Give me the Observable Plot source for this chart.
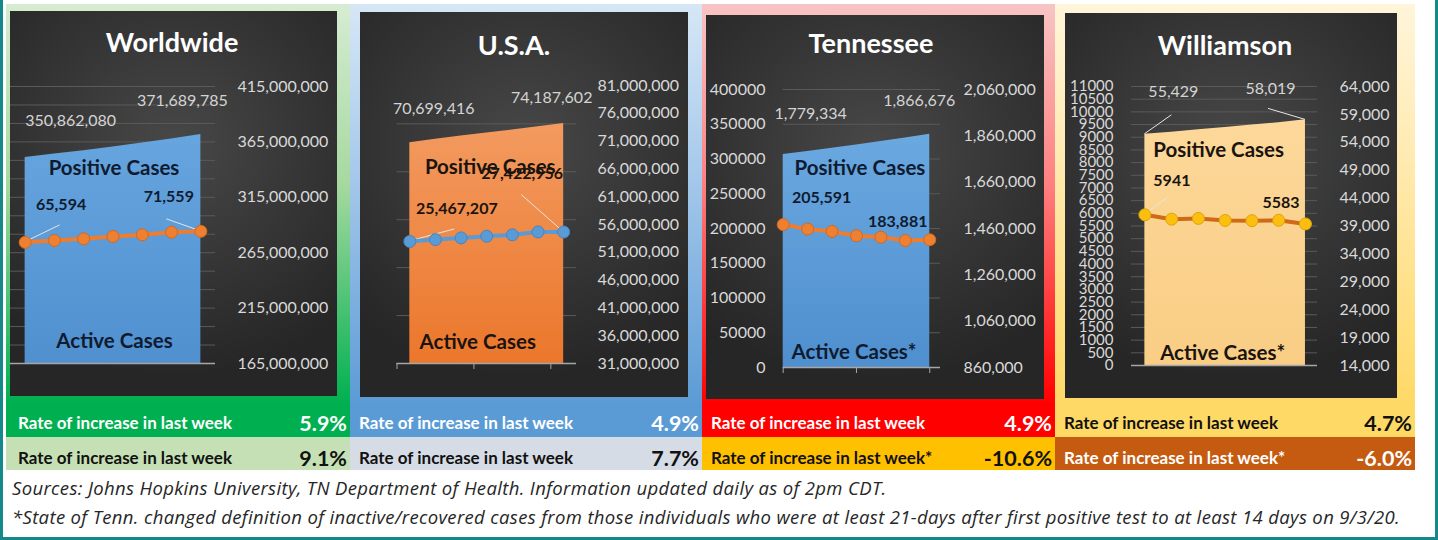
<!DOCTYPE html>
<html><head><meta charset="utf-8">
<script src="https://cdn.jsdelivr.net/npm/d3@7"></script>
<script src="https://cdn.jsdelivr.net/npm/@observablehq/plot@0.6"></script>
<style>
body{margin:0;background:#fff;font-family:Lato,"Noto Sans",sans-serif;}
#root{position:relative;width:1438px;height:540px;overflow:hidden;background:#fff;}
.abs{position:absolute;}
.dark{position:absolute;background:radial-gradient(ellipse 75% 60% at 50% 35%, #484848 0%, #353535 55%, #262626 100%);}
.dark svg{display:block;}
.title{position:absolute;color:#fff;font-weight:700;font-size:27px;transform:translateX(-50%);white-space:nowrap;line-height:30px;}
.rtxt{position:absolute;font-weight:700;font-size:17px;white-space:nowrap;line-height:20px;}
.pct{position:absolute;font-weight:700;font-size:21.5px;white-space:nowrap;line-height:24px;transform:translateX(-100%);}
.cap{position:absolute;left:12px;font-family:"Open Sans",Lato,sans-serif;font-style:italic;font-size:18.5px;letter-spacing:0.35px;color:#262626;white-space:nowrap;line-height:22px;}
</style></head>
<body><div id="root"></div>
<script>
// ---------- data ----------
const dayIndex = [0, 1, 2, 3, 4, 5, 6];
const regions = ["Worldwide", "U.S.A.", "Tennessee", "Williamson"];

const worldPositive = [350862080, 354171000, 357120000, 360380000, 363950000, 367580000, 371689785];
const worldActive   = [65594, 66600, 67500, 68800, 69700, 71100, 71559];
const usaPositive   = [70699416, 71350000, 71900000, 72450000, 73000000, 73600000, 74187602];
const usaActive     = [25467207, 25850000, 26200000, 26550000, 26850000, 27450000, 27422956];
const tnPositive    = [1779334, 1792500, 1806000, 1820500, 1835200, 1850300, 1866676];
const tnActive      = [205591, 199200, 195700, 189600, 187500, 182700, 183881];
const wmPositive    = [55429, 55820, 56240, 56650, 57100, 57520, 58019];
const wmActive      = [5941, 5770, 5800, 5720, 5710, 5725, 5583];

const worldRightTicks = [165000000, 215000000, 265000000, 315000000, 365000000, 415000000];
const worldLeftTicks  = [0, 10000, 20000, 30000, 40000, 50000, 60000, 70000, 80000, 90000, 100000, 110000, 120000, 130000, 140000, 150000];
const usaRightTicks   = [31000000, 36000000, 41000000, 46000000, 51000000, 56000000, 61000000, 66000000, 71000000, 76000000, 81000000];
const usaLeftTicks    = [0, 10000000, 20000000, 30000000, 40000000, 50000000];
const tnRightTicks    = [860000, 1060000, 1260000, 1460000, 1660000, 1860000, 2060000];
const tnLeftTicks     = [0, 50000, 100000, 150000, 200000, 250000, 300000, 350000, 400000];
const wmRightTicks    = [14000, 19000, 24000, 29000, 34000, 39000, 44000, 49000, 54000, 59000, 64000];
const wmLeftTicks     = [0, 500, 1000, 1500, 2000, 2500, 3000, 3500, 4000, 4500, 5000, 5500, 6000, 6500, 7000, 7500, 8000, 8500, 9000, 9500, 10000, 10500, 11000];

const seriesPositiveName = ["Positive Cases", "Positive Cases", "Positive Cases", "Positive Cases"];
const seriesActiveName   = ["Active Cases", "Active Cases", "Active Cases*", "Active Cases*"];

const rateLabelPositive = ["Rate of increase in last week", "Rate of increase in last week", "Rate of increase in last week", "Rate of increase in last week"];
const rateLabelActive   = ["Rate of increase in last week", "Rate of increase in last week", "Rate of increase in last week*", "Rate of increase in last week*"];
const ratePositive = ["5.9%", "4.9%", "4.9%", "4.7%"];
const rateActive   = ["9.1%", "7.7%", "-10.6%", "-6.0%"];

const captions = [
  "Sources: Johns Hopkins University, TN Department of Health. Information updated daily as of 2pm CDT.",
  "*State of Tenn. changed definition of inactive/recovered cases from those individuals who were at least 21-days after first positive test to at least 14 days on 9/3/20."
];

// ---------- layout / style ----------
const fmtComma = d3.format(",");
const fmtPlain = d3.format("d");
const root = document.getElementById("root");

const panels = [
  {positive: worldPositive, active: worldActive, rightTicks: worldRightTicks, leftTicks: worldLeftTicks,
   rDom: [165000000, 415000000], lDom: [0, 150000], showLeft: false, leftFmt: fmtPlain, actFmt: fmtComma,
   L: {left: 10, top: 11, w: 327, h: 385, mt: 75, mb: 33, ml: 0, mr: 122, xDom: [-0.5, 6.5], rPad: 22, lPad: 18, lFont: 16,
       titleX: 172, titleY: 27, areaTop: "#66a5de", areaBot: "#5090cf", line: "#ed7d31", dot: "#ee8032", dotStroke: "#d5691f",
       nameColor: "#0f1b30", posName: {dx: 1, dy: 21.5}, actName: {dx: 1.5, dy: -22},
       posLabels: [{idx: 0, dx: 45.5, dy: -37}, {idx: 6, dx: -18.5, dy: -34}],
       actLabels: [{idx: 0, dx: 36, dy: -37}, {idx: 6, dx: -32, dy: -34}],
       leaders: [{idx: 0, key: "act", lx: 35, ly: -17}, {idx: 6, key: "act", lx: -34, ly: -12}]}},
  {positive: usaPositive, active: usaActive, rightTicks: usaRightTicks, leftTicks: usaLeftTicks,
   rDom: [31000000, 81000000], lDom: [0, 58000000], showLeft: false, leftFmt: fmtPlain, actFmt: fmtComma,
   L: {left: 360, top: 12, w: 328, h: 385, mt: 73, mb: 34, ml: 36.5, mr: 112, xDom: [-0.5, 6.5], rPad: 21, lPad: 18, lFont: 16,
       titleX: 514, titleY: 30, areaTop: "#f39a60", areaBot: "#eb772b", line: "#5b9bd5", dot: "#5b9bd5", dotStroke: "#4784c0",
       nameColor: "#1a1410", posName: {dx: 3.5, dy: 34.5}, actName: {dx: -9, dy: -21},
       xTicks: [-0.5, 2.5, 5.5],
       posLabels: [{idx: 0, dx: 24, dy: -34}, {idx: 6, dx: -12, dy: -26}],
       actLabels: [{idx: 0, dx: 47, dy: -33}, {idx: 6, dx: -41.5, dy: -58}],
       leaders: [{idx: 0, key: "act", lx: 45, ly: -12}, {idx: 6, key: "act", lx: -42, ly: -37}]}},
  {positive: tnPositive, active: tnActive, rightTicks: tnRightTicks, leftTicks: tnLeftTicks,
   rDom: [860000, 2060000], lDom: [0, 400000], showLeft: true, leftFmt: fmtPlain, actFmt: fmtComma,
   L: {left: 706, top: 15, w: 338, h: 384, mt: 74, mb: 32, ml: 76.7, mr: 104, xDom: [0, 6.44], rPad: 23, lPad: 17.7, lFont: 16,
       titleX: 871, titleY: 28, areaTop: "#6aa8e0", areaBot: "#4f8fce", line: "#ed7d31", dot: "#ee8032", dotStroke: "#d5691f",
       nameColor: "#0f1b30", posName: {dx: 3.5, dy: 23.5}, actName: {dx: -2.5, dy: -15},
       xTicks: [0, 3, 6],
       posLabels: [{idx: 0, dx: 27.5, dy: -41}, {idx: 6, dx: -10.5, dy: -33}],
       actLabels: [{idx: 0, dx: 38.5, dy: -27}, {idx: 6, dx: -32, dy: -18}],
       leaders: []}},
  {positive: wmPositive, active: wmActive, rightTicks: wmRightTicks, leftTicks: wmLeftTicks,
   rDom: [14000, 64000], lDom: [0, 11000], showLeft: true, leftFmt: fmtPlain, actFmt: fmtPlain,
   L: {left: 1065, top: 13, w: 332, h: 385, mt: 73, mb: 33, ml: 66, mr: 80, xDom: [-0.5, 6.45], rPad: 22, lPad: 18, lFont: 15,
       titleX: 1225, titleY: 30, areaTop: "#fdd89a", areaBot: "#f9cd84", line: "#cf6a17", dot: "#fcbf10", dotStroke: "#dca40a",
       nameColor: "#1a1410", posName: {dx: -6.5, dy: 23}, actName: {dx: -2.5, dy: -12},
       posLabels: [{idx: 0, dx: 28.5, dy: -42.6}, {idx: 6, dx: -35, dy: -31}],
       actLabels: [{idx: 0, dx: 27, dy: -34}, {idx: 6, dx: -24.5, dy: -21}],
       leaders: [{idx: 0, key: "pos", lx: 27, ly: -19}, {idx: 6, key: "pos", lx: -37, ly: -11}, {idx: 0, key: "act", lx: 23, ly: -17}]}}
];

const columns = [
  {left: 6, right: 350, frame: "linear-gradient(to bottom, #d6ecd2 0%, #a6d9a0 45%, #00b050 100%)", r1: "#00b050", f1: "#ffffff", r2: "#c5e0b4", f2: "#111111"},
  {left: 350, right: 702, frame: "linear-gradient(to bottom, #d6e7f6 0%, #a3c7ea 45%, #5b9bd5 100%)", r1: "#5b9bd5", f1: "#ffffff", r2: "#d6dce5", f2: "#111111"},
  {left: 702, right: 1055, frame: "linear-gradient(to bottom, #f8c4c4 0%, #ff8080 45%, #ff0000 100%)", r1: "#ff0000", f1: "#ffffff", r2: "#ffc000", f2: "#111111"},
  {left: 1055, right: 1415, frame: "linear-gradient(to bottom, #fff5da 0%, #ffe7a4 50%, #ffd966 100%)", r1: "#ffd966", f1: "#111111", r2: "#c55a11", f2: "#ffffff"}
];

function box(left, top, w, h, bg, cls) {
  const d = document.createElement("div");
  d.className = cls || "abs";
  Object.assign(d.style, {left: left + "px", top: top + "px", width: w + "px", height: h + "px"});
  if (bg) d.style.background = bg;
  root.appendChild(d);
  return d;
}
function txt(cls, text, left, top, color) {
  const d = document.createElement("div");
  d.className = cls;
  d.textContent = text;
  d.style.left = left + "px";
  d.style.top = top + "px";
  if (color) d.style.color = color;
  root.appendChild(d);
  return d;
}

// teal outer border
box(0, 0, 3, 540, "#15898a");
box(1435, 0, 3, 540, "#15898a");
box(0, 537, 1438, 3, "#15898a");

// column frames & rate rows
columns.forEach((c, k) => {
  const w = c.right - c.left;
  box(c.left, 4, w, 400, c.frame);
  box(c.left, 404, w, 33, c.r1);
  box(c.left, 437, w, 33, c.r2);
  const tx = k === 0 ? c.left + 12 : c.left + 9;
  txt("rtxt", rateLabelPositive[k], tx, 413, c.f1);
  txt("rtxt", rateLabelActive[k], tx, 448, c.f2);
  txt("pct", ratePositive[k], c.right - 3, 411, c.f1);
  txt("pct", rateActive[k], c.right - 3, 446, c.f2);
});

captions.forEach((t, i) => txt("cap", t, 12, i === 0 ? 477 : 506));

// charts
panels.forEach((p, k) => {
  const L = p.L;
  const span = (p.rDom[1] - p.rDom[0]) / (p.lDom[1] - p.lDom[0]);
  const toR = v => p.rDom[0] + (v - p.lDom[0]) * span;
  const fromR = v => Math.round(p.lDom[0] + (v - p.rDom[0]) / span);
  const rows = dayIndex.map((d, i) => ({i: d, pos: p.positive[i], act: toR(p.active[i]), actRaw: p.active[i]}));
  const gid = "areaGrad" + k;

  const marks = [
    Plot.ruleY(p.leftTicks.map(toR), {stroke: "#5a5a5a", strokeWidth: 1}),
    Plot.area(rows, {x1: "i", y1: () => p.rDom[0], y2: "pos", fill: `url(#${gid})`}),
    Plot.ruleY([p.rDom[0]], {stroke: "#a6a6a6", strokeWidth: 1.5}),
    Plot.axisY(p.rightTicks, {anchor: "right", tickSize: 0, tickPadding: L.rPad, tickFormat: fmtComma, label: null, color: "#d9d9d9", fontSize: 16})
  ];
  if (p.showLeft) {
    marks.push(Plot.axisY(p.leftTicks.map(toR), {anchor: "left", tickSize: 0, tickPadding: L.lPad,
      tickFormat: v => p.leftFmt(fromR(v)), label: null, color: "#d9d9d9", fontSize: L.lFont}));
  }
  if (L.xTicks) {
    marks.push(Plot.axisX(L.xTicks, {anchor: "bottom", tickSize: 6, tickFormat: () => "", label: null, color: "#a6a6a6"}));
  }
  marks.push(Plot.text([rows[3]], {x: "i", y: "pos", text: () => seriesPositiveName[k], dx: L.posName.dx, dy: L.posName.dy,
    fill: L.nameColor, fontSize: 20.5, fontWeight: "bold"}));
  marks.push(Plot.text([rows[3]], {x: "i", frameAnchor: "bottom", lineAnchor: "middle", text: () => seriesActiveName[k], dx: L.actName.dx, dy: L.actName.dy,
    fill: L.nameColor, fontSize: 20.5, fontWeight: "bold"}));
  // leader lines
  marks.push((index, scales) => {
    const g = d3.create("svg:g");
    for (const s of L.leaders) {
      const x = scales.x(rows[s.idx].i), y = scales.y(rows[s.idx][s.key]);
      g.append("line").attr("x1", x).attr("y1", y).attr("x2", x + s.lx).attr("y2", y + s.ly)
        .attr("stroke", "#e6e6e6").attr("stroke-width", 1);
    }
    return g.node();
  });
  marks.push(Plot.line(rows, {x: "i", y: "act", stroke: L.line, strokeWidth: 4}));
  marks.push(Plot.dot(rows, {x: "i", y: "act", r: 6, fill: L.dot, stroke: L.dotStroke, strokeWidth: 1}));
  for (const s of L.posLabels) {
    marks.push(Plot.text([rows[s.idx]], {x: "i", y: "pos", text: d => fmtComma(d.pos), dx: s.dx, dy: s.dy, fill: "#d4d4d4", fontSize: 16}));
  }
  for (const s of L.actLabels) {
    marks.push(Plot.text([rows[s.idx]], {x: "i", y: "act", text: d => p.actFmt(d.actRaw), dx: s.dx, dy: s.dy, fill: L.nameColor, fontSize: 16, fontWeight: "bold"}));
  }

  const svg = Plot.plot({
    width: L.w, height: L.h,
    marginTop: L.mt, marginBottom: L.mb, marginLeft: L.ml, marginRight: L.mr,
    x: {domain: L.xDom, axis: null, label: null},
    y: {domain: p.rDom, axis: null, label: null},
    style: {background: "transparent", fontFamily: "Lato, 'Noto Sans', sans-serif", fontSize: "16px", color: "#d9d9d9", overflow: "visible"},
    marks
  });
  const defs = d3.select(svg).insert("defs", ":first-child");
  const lg = defs.append("linearGradient").attr("id", gid).attr("x1", 0).attr("y1", 0).attr("x2", 0).attr("y2", 1);
  lg.append("stop").attr("offset", "0%").attr("stop-color", L.areaTop);
  lg.append("stop").attr("offset", "100%").attr("stop-color", L.areaBot);

  const holder = box(L.left, L.top, L.w, L.h, null, "dark");
  holder.appendChild(svg);
  txt("title", regions[k], L.titleX, L.titleY);
});
</script>
</body></html>
